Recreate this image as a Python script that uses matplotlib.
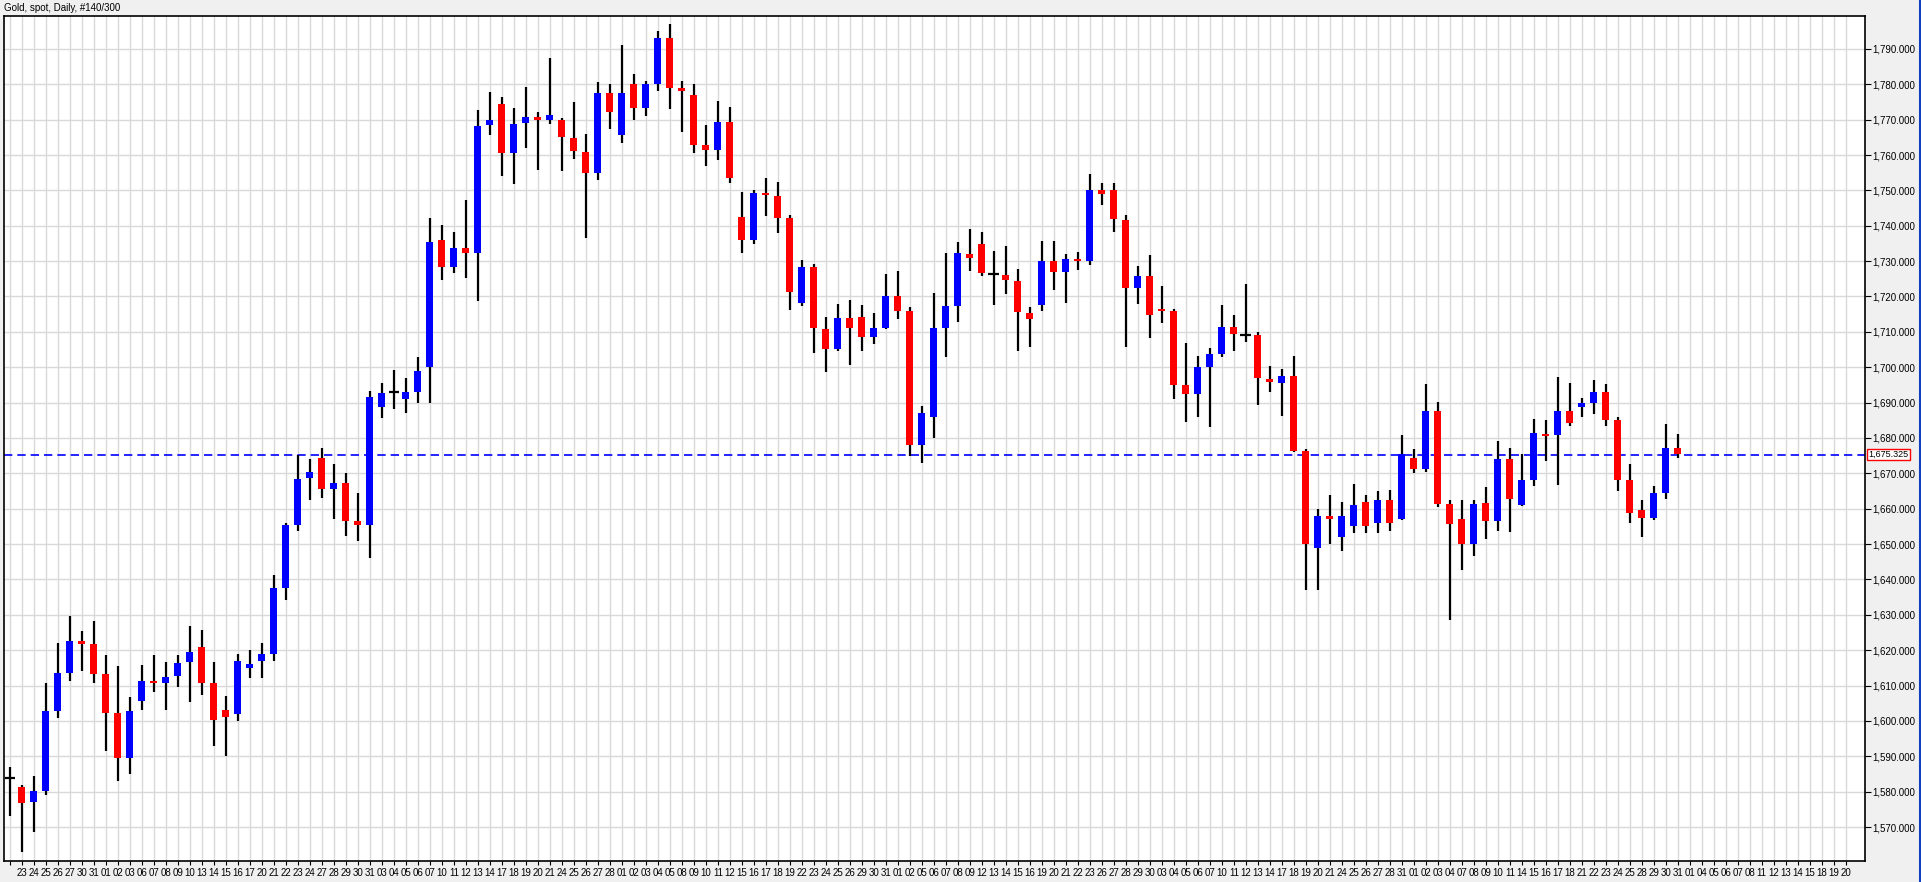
import matplotlib
matplotlib.use("Agg")
import matplotlib.pyplot as plt
import pandas as pd

title = "Gold, spot, Daily, #140/300"
start_date = "2012-07-20"
n_slots = 154
last_price = 1675.325

opens = [1584,1581.4,1577,1580.3,1602.7,1613.5,1622.7,1621.7,1613.2,1602.2,
         1589.4,1605.6,1611.4,1610.7,1612.6,1616.6,1621,1610.7,1603,1602,
         1615,1617,1619,1637.7,1655.4,1668.8,1674.3,1665.7,1667.3,1656.5,
         1655.4,1688.8,1692.9,1691,1693,1700,1736,1728.2,1733.8,1732.2,
         1768.4,1774.5,1760.5,1769,1770.8,1769.8,1770,1764.9,1760.9,1754.8,
         1777.5,1765.7,1780,1773.3,1780,1793,1779,1777,1762.7,1761.3,
         1769.2,1742.4,1735.9,1749.2,1748.5,1742.2,1718.1,1728.2,1710.9,1705.1,
         1713.8,1714.1,1708.5,1711.2,1720,1716,1678,1686,1711.2,1717.2,
         1732,1734.7,1726.4,1726.2,1724.4,1715.4,1717.7,1730,1726.8,1730.7,
         1729.9,1750,1750,1741.7,1722.5,1725.8,1716.5,1715.9,1695.1,1692.5,
         1700.1,1703.6,1711.5,1709.2,1709.2,1696.8,1695.5,1697.4,1676.4,1649,
         1658,1652,1655,1662,1656,1662.4,1657.2,1674.2,1671.2,1687.5,
         1661.3,1657,1650.1,1661.5,1656.5,1674,1661,1668,1681,1680.8,
         1687.5,1688.8,1689.9,1692.9,1685,1668,1659.5,1657.4,1664.4,1677.2]
highs = [1587,1582,1584.5,1610.7,1622,1629.6,1625.4,1628.2,1618.6,1615.5,
         1606.9,1615.7,1618.6,1616.8,1618.5,1626.8,1625.6,1616.6,1607,1619,
         1620,1622,1641.2,1656,1675.2,1674.1,1677.2,1672.7,1670.2,1664.4,
         1693.3,1695.6,1699.2,1697,1703,1742.3,1740.3,1738.3,1747.4,1772.8,
         1777.9,1776.5,1773.4,1779.3,1772.3,1787.5,1770.4,1775.1,1765.8,1780.5,
         1780,1791,1783,1781,1795,1797,1781,1780,1768.4,1775.2,
         1773.5,1749.4,1750,1753.6,1752.3,1743.1,1730.2,1729.3,1714.3,1718,
         1718.9,1717.5,1715.3,1726.3,1727.1,1716.9,1689,1721.1,1732.2,1735.3,
         1739.1,1738.1,1733,1734.2,1727.8,1717.1,1735.8,1735.8,1732.1,1732.6,
         1754.5,1752,1752,1743.1,1728.7,1731.8,1723,1716.5,1706.9,1703.2,
         1705.5,1717.5,1714.7,1723.4,1710.1,1700.4,1699.6,1703.3,1677,1660,
         1664,1662,1667,1664,1665,1665.2,1680.8,1676.8,1695.2,1690.1,
         1662.4,1662.6,1662.6,1666,1679.1,1677.2,1675.4,1685.3,1685,1697.2,
         1695.5,1691.4,1696.3,1695.2,1685.8,1672.5,1662.6,1666.3,1683.9,1681]
lows = [1573,1563,1568.5,1579,1600.8,1611.4,1614,1610.7,1591.4,1583.1,
        1585,1603.2,1608.1,1603.2,1609.5,1605.3,1607.2,1593,1590,1600,
        1612,1612,1617,1634.2,1653.7,1662.5,1663.1,1657.2,1652.4,1651,
        1646.2,1685.7,1688.2,1687,1690,1690,1724.8,1726.7,1725.1,1718.6,
        1765.6,1754.2,1751.7,1761.9,1755.7,1768.7,1755.4,1758.8,1736.4,1752.8,
        1767.3,1763.4,1770,1771,1778,1773,1766.5,1760.6,1756.9,1758.6,
        1752.1,1732.3,1734.8,1742.7,1737.9,1716.1,1717.3,1704,1698.6,1704.5,
        1700.5,1704.7,1706.5,1710.7,1713.6,1675,1673,1680,1703,1712.7,
        1727.1,1725.8,1717.7,1720.6,1704.7,1705.6,1716,1721.9,1718.3,1727.5,
        1728.9,1746,1738.1,1705.6,1718,1708.4,1712.4,1691.1,1684.6,1685.8,
        1683.2,1702.8,1704.7,1707.1,1689.4,1692.9,1686.3,1676,1637,1637,
        1650,1648,1653,1653,1653,1653.7,1656.7,1670.1,1670.4,1660.5,
        1628.4,1642.7,1646.6,1651.4,1653.7,1653.4,1660.8,1666.4,1673.5,1666.6,
        1683.4,1685.9,1686.8,1683.4,1665,1655.9,1652,1656.9,1662.7,1674.3]
closes = [1584,1576.7,1580.3,1602.7,1613.5,1622.5,1621.7,1613.2,1602.2,1589.4,
          1602.9,1611.4,1610.8,1612.5,1616.5,1619.6,1610.7,1600.2,1601,1617,
          1616,1619,1637.7,1655.4,1668.4,1670.4,1665.7,1667.3,1656.6,1655.4,
          1691.6,1692.8,1692.9,1693,1699,1735.3,1728.2,1733.8,1732.2,1768.3,
          1770,1760.5,1768.9,1770.8,1769.9,1771.4,1765,1761,1754.8,1777.4,
          1772.2,1777.5,1773.3,1780,1793,1779,1778,1762.8,1761.3,1769.2,
          1753.5,1735.9,1749.2,1748.6,1742.2,1721.2,1728.2,1711,1705.1,1713.8,
          1711,1708.5,1711.2,1720,1715.8,1678,1687,1711.2,1717.2,1732.2,
          1730.8,1726.6,1726.4,1724.6,1715.5,1713.5,1730,1726.8,1730.7,1729.9,
          1750,1749,1741.9,1722.5,1725.8,1714.9,1716,1695.1,1692.5,1700.1,
          1703.7,1711.5,1709.3,1709.2,1696.9,1695.8,1697.4,1676.4,1650,1658,
          1657,1658,1661,1655,1662.4,1656,1675.4,1671.2,1687.5,1661.3,
          1655.7,1650,1661.2,1656.5,1674,1662.7,1668,1681.3,1680.6,1687.5,
          1684.2,1689.8,1692.9,1685.1,1668.1,1658.8,1657.4,1664.4,1677.2,1675.5]

dates = pd.bdate_range(start_date, periods=n_slots)
date_labels = [d.strftime("%d") for d in dates]

W, H = 1921, 882
fig = plt.figure(figsize=(W/100, H/100), dpi=100, facecolor="#f0f0f0")
L, R, T, B = 4, 1865, 16, 861
ax = fig.add_axes([L/W, 1-B/H, (R-L)/W, (B-T)/H])
ax.set_facecolor("white")
ax.set_xlim(-0.5, 154.6)
ax.set_ylim(1560.4, 1799.3)

xs = list(range(len(opens)))
up_x = [i for i in xs if closes[i] > opens[i]]
dn_x = [i for i in xs if closes[i] < opens[i]]
dj_x = [i for i in xs if closes[i] == opens[i]]

ax.vlines(xs, lows, highs, color="black", lw=1.6, zorder=3)
bw = 7/12
ax.bar(up_x, [closes[i]-opens[i] for i in up_x], bottom=[opens[i] for i in up_x],
       width=bw, color="#0000ff", zorder=4)
ax.bar(dn_x, [max(opens[i]-closes[i], 0.4) for i in dn_x], bottom=[closes[i] for i in dn_x],
       width=bw, color="#ff0000", zorder=4)
ax.hlines([opens[i] for i in dj_x], [i-0.45 for i in dj_x], [i+0.45 for i in dj_x],
          color="black", lw=1.6, zorder=4)

ax.axhline(last_price, color="#0000ff", lw=1.2, ls=(0, (5, 3)), zorder=2)

fam = ["Liberation Sans", "DejaVu Sans"]
yt = list(range(1570, 1800, 10))
ax.set_yticks(yt)
ax.set_yticklabels([f"{v:,.3f}" for v in yt], fontfamily=fam, fontsize=7)
ax.set_xticks(range(n_slots))
ax.set_xticklabels([""] + date_labels[1:], fontfamily=fam, fontsize=7)
ax.yaxis.tick_right()
ax.grid(True, color="#d9d9d9", lw=1.0, zorder=0)
ax.set_axisbelow(True)
ax.tick_params(axis="y", colors="black", length=4, pad=1.5)
ax.tick_params(axis="x", length=3, pad=2)
for t in ax.yaxis.get_ticklines() + ax.xaxis.get_ticklines():
    t.set_color("#ff0000")
for s in ax.spines.values():
    s.set_color("black"); s.set_linewidth(1.2)

ax.text(1.002, last_price, f"{last_price:,.3f}", transform=ax.get_yaxis_transform(),
        va="center", ha="left", fontsize=6.5, family=fam,
        bbox=dict(boxstyle="square,pad=0.15", fc="white", ec="#ff0000", lw=1))

fig.text(4/W, 1-8/H, title, fontsize=7, va="center", ha="left", family=fam)
fig.add_artist(plt.Line2D([1919.5/W]*2, [0, 1], color="#1040c0", lw=1.5))

fig.savefig("out.png", dpi=100, facecolor=fig.get_facecolor())
